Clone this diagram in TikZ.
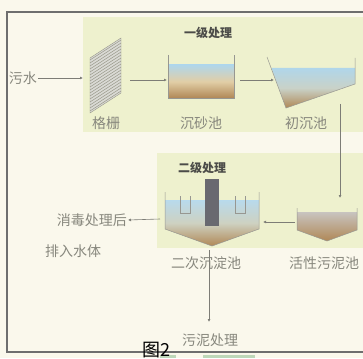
\documentclass[tikz,border=0pt]{standalone}
\usepackage{fontspec}
\newfontfamily\cjk{Noto Sans CJK SC}
\usetikzlibrary{arrows.meta}
\definecolor{paper}{RGB}{250,248,236}
\definecolor{panel}{RGB}{238,241,206}
\definecolor{framegray}{RGB}{110,110,110}
\definecolor{labelgray}{RGB}{135,135,125}
\definecolor{headgray}{RGB}{75,75,72}
\definecolor{linegray}{RGB}{125,125,118}
\definecolor{water}{RGB}{176,214,234}
\definecolor{sand}{RGB}{226,206,166}
\definecolor{silt}{RGB}{176,136,86}
\definecolor{sludge}{RGB}{200,196,192}
\definecolor{pillar}{RGB}{105,105,112}
\definecolor{grate}{RGB}{150,150,135}
\definecolor{tabgreen}{RGB}{190,215,185}
\tikzset{
  lbl/.style={font=\cjk\fontsize{14}{16}\selectfont, text=labelgray, inner sep=1pt},
  head/.style={font=\cjk\bfseries\fontsize{12}{14}\selectfont, text=headgray, inner sep=1pt},
  flow/.style={draw=linegray, line width=0.6pt, -{Latex[length=3pt,width=3pt]}},
  wall/.style={draw=linegray!80, line width=0.5pt}
}
\begin{document}
\begin{tikzpicture}[x=1pt,y=-1pt]
\useasboundingbox (0,0) rectangle (363,358);
\fill[paper] (0,0) rectangle (363,358);
% stage panels
\fill[panel] (83,17) rectangle (363,132);
\fill[panel] (157,153) rectangle (363,248);
% outer frame
\draw[framegray, line width=1.2pt] (363,12) -- (7,12) -- (7,352) -- (363,352);

% ---- primary treatment ----
\node[head] (h1) at (208,33) {一级处理};
\node[lbl, anchor=east] (sewage) at (38,78) {污水};

% bar screen
\fill[grate!35] (90,58) -- (121,38) -- (121,93) -- (90,113) -- cycle;
\foreach \k in {0,...,17}
  \draw[grate, line width=0.5pt] (90,60+3*\k) -- (121,40+3*\k);
\draw[grate, line width=0.4pt] (90,58) -- (121,38) -- (121,93) -- (90,113) -- cycle;
\coordinate (screenW) at (83,78);
\coordinate (screenE) at (130,80);
\node[lbl] (screenL) at (106,123) {格栅};

% grit chamber
\shade[top color=water, bottom color=silt, middle color=sand] (168,65) rectangle (234,98);
\draw[wall] (168,55) -- (168,98) -- (234,98) -- (234,55);
\coordinate (gritW) at (167,80);
\coordinate (gritE) at (240,80);
\node[lbl] (gritL) at (201,123) {沉砂池};

% primary clarifier
\shade[top color=water, bottom color=silt, middle color=water!50!sand]
  (271.5,68) -- (355,68) -- (355,84) -- (286,108) -- cycle;
\draw[wall] (267,57) -- (286,108) -- (355,84) -- (355,58);
\coordinate (primW) at (274,80);
\coordinate (primS) at (340,104);
\node[lbl] (primL) at (306,123) {初沉池};

% ---- secondary treatment ----
\node[head] (h2) at (202,168) {二级处理};

% activated sludge tank
\shade[top color=sludge, bottom color=silt] (297,212) -- (357,212) -- (357,230) -- (327,241) -- (297,230) -- cycle;
\draw[wall] (297,208) -- (297,230) -- (327,241) -- (357,230) -- (357,208);
\coordinate (aerN) at (340,198);
\coordinate (aerW) at (295,222);
\node[lbl] (aerL) at (324,263) {活性污泥池};

% secondary clarifier
\shade[top color=water!90, bottom color=silt, middle color=water!40!sand]
  (165,200) -- (259,200) -- (259,229) -- (212,246) -- (165,229) -- cycle;
\draw[wall] (165,192) -- (165,229) -- (212,246) -- (259,229) -- (259,192);
\fill[pillar] (205,179) rectangle (219,226);
\draw[wall] (180,196) -- (180,213) -- (190,213) -- (190,196);
\draw[wall] (235,196) -- (235,213) -- (245,213) -- (245,196);
\coordinate (secE) at (263,222);
\coordinate (secW) at (160,219);
\coordinate (secS) at (209,250);
\node[lbl] (secL) at (206,263) {二次沉淀池};

% outlets
\node[lbl, anchor=east] (outL) at (128,220) {消毒处理后};
\node[lbl, anchor=west] (outL2) at (44,251) {排入水体};
\node[lbl] (sludgeL) at (210,340) {污泥处理};
\coordinate (sludgeN) at (209,322);

% flow connectors
\draw[flow] (sewage.east) -- (screenW);
\draw[flow] (screenE) -- (gritW);
\draw[flow] (gritE) -- (primW);
\draw[flow] (primS) -- (aerN);
\draw[flow] (aerW) -- (secE);
\draw[flow] (secW) -- (outL.east);
\draw[flow] (secS) -- (sludgeN);

% caption, clipped by the page edge
\fill[tabgreen] (160,355) rectangle (176,358);
\fill[tabgreen] (203,355) rectangle (255,358);
\node[font=\cjk\fontsize{18}{20}\selectfont, anchor=north west, inner sep=0pt] (cap) at (142,342) {图2};
\end{tikzpicture}
\end{document}
